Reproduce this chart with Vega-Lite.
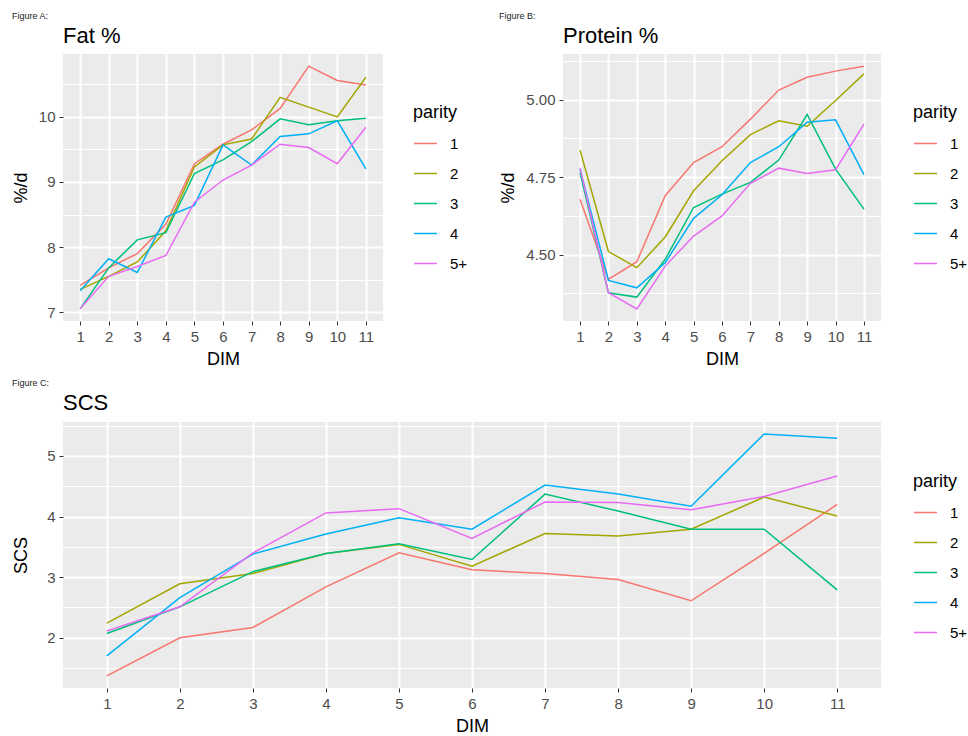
{
"$schema": "https://vega.github.io/schema/vega-lite/v6.json",
"padding": {"left": 12, "top": 11, "right": 0, "bottom": 0},
"datasets": {
"fat": [
{"DIM":1,"parity":"1","v":7.41},{"DIM":2,"parity":"1","v":7.68},{"DIM":3,"parity":"1","v":7.90},{"DIM":4,"parity":"1","v":8.35},{"DIM":5,"parity":"1","v":9.28},{"DIM":6,"parity":"1","v":9.58},{"DIM":7,"parity":"1","v":9.80},{"DIM":8,"parity":"1","v":10.13},{"DIM":9,"parity":"1","v":10.78},{"DIM":10,"parity":"1","v":10.56},{"DIM":11,"parity":"1","v":10.49},
{"DIM":1,"parity":"2","v":7.35},{"DIM":2,"parity":"2","v":7.55},{"DIM":3,"parity":"2","v":7.77},{"DIM":4,"parity":"2","v":8.25},{"DIM":5,"parity":"2","v":9.23},{"DIM":6,"parity":"2","v":9.57},{"DIM":7,"parity":"2","v":9.66},{"DIM":8,"parity":"2","v":10.30},{"DIM":9,"parity":"2","v":10.15},{"DIM":10,"parity":"2","v":10.00},{"DIM":11,"parity":"2","v":10.61},
{"DIM":1,"parity":"3","v":7.05},{"DIM":2,"parity":"3","v":7.68},{"DIM":3,"parity":"3","v":8.11},{"DIM":4,"parity":"3","v":8.22},{"DIM":5,"parity":"3","v":9.13},{"DIM":6,"parity":"3","v":9.34},{"DIM":7,"parity":"3","v":9.62},{"DIM":8,"parity":"3","v":9.97},{"DIM":9,"parity":"3","v":9.88},{"DIM":10,"parity":"3","v":9.94},{"DIM":11,"parity":"3","v":9.98},
{"DIM":1,"parity":"4","v":7.33},{"DIM":2,"parity":"4","v":7.82},{"DIM":3,"parity":"4","v":7.61},{"DIM":4,"parity":"4","v":8.46},{"DIM":5,"parity":"4","v":8.64},{"DIM":6,"parity":"4","v":9.57},{"DIM":7,"parity":"4","v":9.26},{"DIM":8,"parity":"4","v":9.70},{"DIM":9,"parity":"4","v":9.74},{"DIM":10,"parity":"4","v":9.94},{"DIM":11,"parity":"4","v":9.20},
{"DIM":1,"parity":"5+","v":7.05},{"DIM":2,"parity":"5+","v":7.55},{"DIM":3,"parity":"5+","v":7.70},{"DIM":4,"parity":"5+","v":7.87},{"DIM":5,"parity":"5+","v":8.69},{"DIM":6,"parity":"5+","v":9.03},{"DIM":7,"parity":"5+","v":9.26},{"DIM":8,"parity":"5+","v":9.58},{"DIM":9,"parity":"5+","v":9.53},{"DIM":10,"parity":"5+","v":9.28},{"DIM":11,"parity":"5+","v":9.84}
],
"protein": [
{"DIM":1,"parity":"1","v":4.679},{"DIM":2,"parity":"1","v":4.420},{"DIM":3,"parity":"1","v":4.477},{"DIM":4,"parity":"1","v":4.690},{"DIM":5,"parity":"1","v":4.797},{"DIM":6,"parity":"1","v":4.848},{"DIM":7,"parity":"1","v":4.937},{"DIM":8,"parity":"1","v":5.031},{"DIM":9,"parity":"1","v":5.072},{"DIM":10,"parity":"1","v":5.092},{"DIM":11,"parity":"1","v":5.108},
{"DIM":1,"parity":"2","v":4.837},{"DIM":2,"parity":"2","v":4.510},{"DIM":3,"parity":"2","v":4.458},{"DIM":4,"parity":"2","v":4.557},{"DIM":5,"parity":"2","v":4.706},{"DIM":6,"parity":"2","v":4.803},{"DIM":7,"parity":"2","v":4.887},{"DIM":8,"parity":"2","v":4.932},{"DIM":9,"parity":"2","v":4.914},{"DIM":10,"parity":"2","v":4.997},{"DIM":11,"parity":"2","v":5.083},
{"DIM":1,"parity":"3","v":4.765},{"DIM":2,"parity":"3","v":4.377},{"DIM":3,"parity":"3","v":4.363},{"DIM":4,"parity":"3","v":4.485},{"DIM":5,"parity":"3","v":4.652},{"DIM":6,"parity":"3","v":4.695},{"DIM":7,"parity":"3","v":4.733},{"DIM":8,"parity":"3","v":4.805},{"DIM":9,"parity":"3","v":4.952},{"DIM":10,"parity":"3","v":4.776},{"DIM":11,"parity":"3","v":4.647},
{"DIM":1,"parity":"4","v":4.776},{"DIM":2,"parity":"4","v":4.417},{"DIM":3,"parity":"4","v":4.393},{"DIM":4,"parity":"4","v":4.474},{"DIM":5,"parity":"4","v":4.617},{"DIM":6,"parity":"4","v":4.693},{"DIM":7,"parity":"4","v":4.797},{"DIM":8,"parity":"4","v":4.848},{"DIM":9,"parity":"4","v":4.927},{"DIM":10,"parity":"4","v":4.935},{"DIM":11,"parity":"4","v":4.758},
{"DIM":1,"parity":"5+","v":4.779},{"DIM":2,"parity":"5+","v":4.377},{"DIM":3,"parity":"5+","v":4.325},{"DIM":4,"parity":"5+","v":4.463},{"DIM":5,"parity":"5+","v":4.560},{"DIM":6,"parity":"5+","v":4.625},{"DIM":7,"parity":"5+","v":4.730},{"DIM":8,"parity":"5+","v":4.779},{"DIM":9,"parity":"5+","v":4.762},{"DIM":10,"parity":"5+","v":4.774},{"DIM":11,"parity":"5+","v":4.921}
],
"scs": [
{"DIM":1,"parity":"1","v":1.37},{"DIM":2,"parity":"1","v":2.00},{"DIM":3,"parity":"1","v":2.17},{"DIM":4,"parity":"1","v":2.84},{"DIM":5,"parity":"1","v":3.40},{"DIM":6,"parity":"1","v":3.12},{"DIM":7,"parity":"1","v":3.06},{"DIM":8,"parity":"1","v":2.96},{"DIM":9,"parity":"1","v":2.61},{"DIM":10,"parity":"1","v":3.39},{"DIM":11,"parity":"1","v":4.20},
{"DIM":1,"parity":"2","v":2.24},{"DIM":2,"parity":"2","v":2.89},{"DIM":3,"parity":"2","v":3.06},{"DIM":4,"parity":"2","v":3.39},{"DIM":5,"parity":"2","v":3.54},{"DIM":6,"parity":"2","v":3.18},{"DIM":7,"parity":"2","v":3.72},{"DIM":8,"parity":"2","v":3.68},{"DIM":9,"parity":"2","v":3.79},{"DIM":10,"parity":"2","v":4.32},{"DIM":11,"parity":"2","v":4.01},
{"DIM":1,"parity":"3","v":2.07},{"DIM":2,"parity":"3","v":2.51},{"DIM":3,"parity":"3","v":3.09},{"DIM":4,"parity":"3","v":3.39},{"DIM":5,"parity":"3","v":3.55},{"DIM":6,"parity":"3","v":3.29},{"DIM":7,"parity":"3","v":4.37},{"DIM":8,"parity":"3","v":4.09},{"DIM":9,"parity":"3","v":3.79},{"DIM":10,"parity":"3","v":3.79},{"DIM":11,"parity":"3","v":2.79},
{"DIM":1,"parity":"4","v":1.70},{"DIM":2,"parity":"4","v":2.66},{"DIM":3,"parity":"4","v":3.38},{"DIM":4,"parity":"4","v":3.71},{"DIM":5,"parity":"4","v":3.98},{"DIM":6,"parity":"4","v":3.79},{"DIM":7,"parity":"4","v":4.52},{"DIM":8,"parity":"4","v":4.37},{"DIM":9,"parity":"4","v":4.17},{"DIM":10,"parity":"4","v":5.36},{"DIM":11,"parity":"4","v":5.29},
{"DIM":1,"parity":"5+","v":2.11},{"DIM":2,"parity":"5+","v":2.51},{"DIM":3,"parity":"5+","v":3.40},{"DIM":4,"parity":"5+","v":4.06},{"DIM":5,"parity":"5+","v":4.13},{"DIM":6,"parity":"5+","v":3.64},{"DIM":7,"parity":"5+","v":4.24},{"DIM":8,"parity":"5+","v":4.23},{"DIM":9,"parity":"5+","v":4.11},{"DIM":10,"parity":"5+","v":4.33},{"DIM":11,"parity":"5+","v":4.67}
]
},
"spacing": 10,
"resolve": {"scale": {"color": "independent"}, "legend": {"color": "independent"}},
"vconcat": [
{"spacing": 31,
 "resolve": {"scale": {"color": "independent"}, "legend": {"color": "independent"}},
 "hconcat": [
 {"title": {"text": "Figure A:", "fontSize": 9, "offset": 4, "color": "#222222"},
  "vconcat": [{
   "title": {"text": "Fat %", "fontSize": 22, "offset": 6, "frame": "group"},
   "width": 320, "height": 267,
   "data": {"name": "fat"},
   "mark": {"type": "line", "strokeWidth": 1.5},
   "encoding": {
    "x": {"field": "DIM", "type": "quantitative", "scale": {"domain": [0.4, 11.6], "nice": false, "zero": false},
          "axis": {"title": "DIM", "values": [1,2,3,4,5,6,7,8,9,10,11], "format": "d", "gridWidth": 2}},
    "y": {"field": "v", "type": "quantitative", "scale": {"domain": [6.8635, 10.9665], "nice": false, "zero": false},
          "axis": {"title": "%/d", "values": [7,7.5,8,8.5,9,9.5,10,10.5], "format": ".0f", "minExtent": 27, "maxExtent": 27,
                   "labelExpr": "datum.value % 1 === 0 ? datum.label : ''",
                   "gridWidth": {"condition": {"test": "datum.value % 1 === 0", "value": 2}, "value": 1},
                   "tickOpacity": {"condition": {"test": "datum.value % 1 === 0", "value": 1}, "value": 0}}},
    "color": {"field": "parity", "type": "nominal",
              "scale": {"domain": ["1","2","3","4","5+"], "range": ["#F8766D","#A3A500","#00BF7D","#00B0F6","#E76BF3"]},
              "legend": {"title": "parity", "orient": "none", "legendX": 350, "legendY": 50}}
   }
  }]
 },
 {"title": {"text": "Figure B:", "fontSize": 9, "offset": 4, "color": "#222222"},
  "vconcat": [{
   "title": {"text": "Protein %", "fontSize": 22, "offset": 6, "frame": "group"},
   "width": 318, "height": 267,
   "data": {"name": "protein"},
   "mark": {"type": "line", "strokeWidth": 1.5},
   "encoding": {
    "x": {"field": "DIM", "type": "quantitative", "scale": {"domain": [0.4, 11.6], "nice": false, "zero": false},
          "axis": {"title": "DIM", "values": [1,2,3,4,5,6,7,8,9,10,11], "format": "d", "gridWidth": 2}},
    "y": {"field": "v", "type": "quantitative", "scale": {"domain": [4.2859, 5.1472], "nice": false, "zero": false},
          "axis": {"title": "%/d", "values": [4.375,4.5,4.625,4.75,4.875,5,5.125], "format": ".2f", "minExtent": 40, "maxExtent": 40,
                   "labelExpr": "(datum.value * 4) % 1 === 0 ? datum.label : ''",
                   "gridWidth": {"condition": {"test": "(datum.value * 4) % 1 === 0", "value": 2}, "value": 1},
                   "tickOpacity": {"condition": {"test": "(datum.value * 4) % 1 === 0", "value": 1}, "value": 0}}},
    "color": {"field": "parity", "type": "nominal",
              "scale": {"domain": ["1","2","3","4","5+"], "range": ["#F8766D","#A3A500","#00BF7D","#00B0F6","#E76BF3"]},
              "legend": {"title": "parity", "orient": "none", "legendX": 350, "legendY": 50}}
   }
  }]
 }
]},
{"title": {"text": "Figure C:", "fontSize": 9, "offset": 4, "color": "#222222"},
 "vconcat": [{
   "title": {"text": "SCS", "fontSize": 22, "offset": 4, "frame": "group"},
   "width": 818, "height": 266,
   "data": {"name": "scs"},
   "mark": {"type": "line", "strokeWidth": 1.5},
   "encoding": {
    "x": {"field": "DIM", "type": "quantitative", "scale": {"domain": [0.4, 11.6], "nice": false, "zero": false},
          "axis": {"title": "DIM", "values": [1,2,3,4,5,6,7,8,9,10,11], "format": "d", "gridWidth": 2}},
    "y": {"field": "v", "type": "quantitative", "scale": {"domain": [1.1705, 5.5595], "nice": false, "zero": false},
          "axis": {"title": "SCS", "values": [1.5,2,2.5,3,3.5,4,4.5,5,5.5], "format": ".0f", "minExtent": 27, "maxExtent": 27,
                   "labelExpr": "datum.value % 1 === 0 ? datum.label : ''",
                   "gridWidth": {"condition": {"test": "datum.value % 1 === 0", "value": 2}, "value": 1},
                   "tickOpacity": {"condition": {"test": "datum.value % 1 === 0", "value": 1}, "value": 0}}},
    "color": {"field": "parity", "type": "nominal",
              "scale": {"domain": ["1","2","3","4","5+"], "range": ["#F8766D","#A3A500","#00BF7D","#00B0F6","#E76BF3"]},
              "legend": {"title": "parity", "orient": "none", "legendX": 850, "legendY": 51}}
   }
 }]
}
],
"config": {
 "font": "Liberation Sans",
 "view": {"fill": "#EBEBEB", "stroke": null},
 "title": {"anchor": "start", "fontWeight": "normal", "color": "black", "font": "Liberation Sans"},
 "axis": {"domain": false, "grid": true, "gridColor": "white", "tickColor": "#333333", "tickSize": 4, "tickWidth": 1,
          "labelColor": "#4D4D4D", "labelFontSize": 15, "labelPadding": 4, "labelOverlap": false, "labelFlush": false,
          "titleFontSize": 18, "titleFontWeight": "normal", "titleColor": "black", "titlePadding": 5},
 "axisX": {"titlePadding": 6},
 "axisY": {"titlePadding": 6},
 "legend": {"titleFontSize": 18, "titleFontWeight": "normal", "titleColor": "black", "titlePadding": 9,
            "labelFontSize": 15, "labelColor": "black", "labelOffset": 12, "symbolType": "stroke", "symbolSize": 529,
            "symbolStrokeWidth": 1.5, "rowPadding": 9, "padding": 0}
}
}
